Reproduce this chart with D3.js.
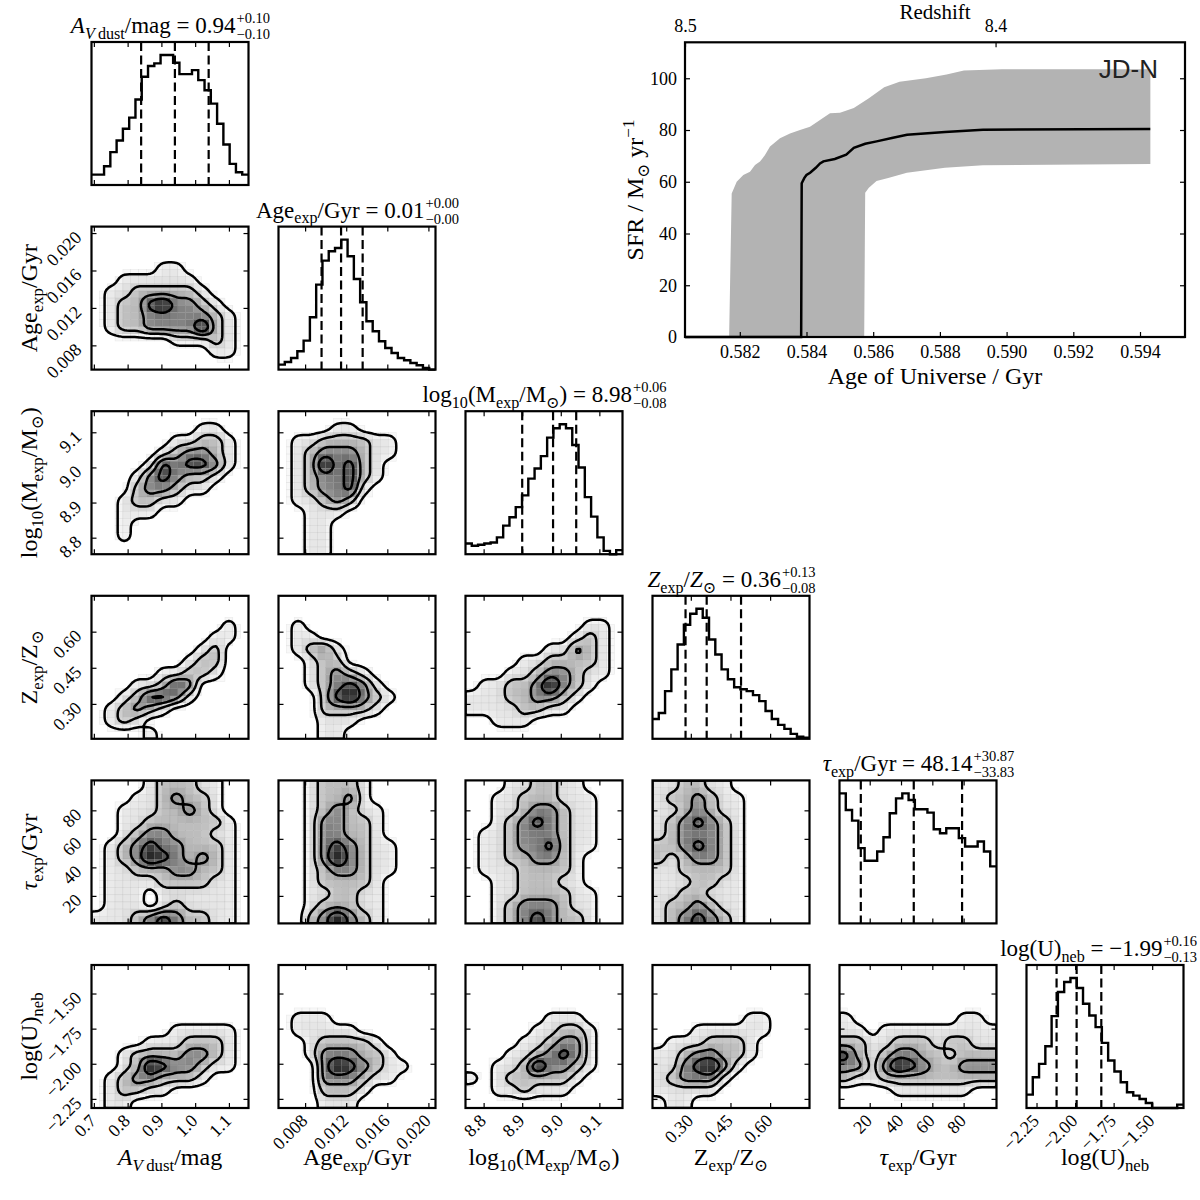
<!DOCTYPE html>
<html>
<head>
<meta charset="utf-8">
<script src="https://cdn.jsdelivr.net/npm/d3@7"></script>
<style>
body { margin: 0; background: #fff; }
svg text { white-space: pre; }
</style>
</head>
<body>
<svg id="fig" width="1200" height="1200"></svg>
<script>
// ---- corner plot parameters ----
const paramRanges = [[0.693, 1.158], [0.00541, 0.02069], [8.753, 9.16], [0.155, 0.749], [0.7, 101], [-2.315, -1.297]];
const paramTicks = [[0.7, 0.8, 0.9, 1.0, 1.1], [0.008, 0.012, 0.016, 0.020], [8.8, 8.9, 9.0, 9.1], [0.30, 0.45, 0.60], [20, 40, 60, 80], [-2.25, -2.00, -1.75, -1.50]];
const tickFormats = [".1f", ".3f", ".1f", ".2f", "d", ".2f"];
const q16 = [0.84, 0.0096, 8.90, 0.28, 14.31, -2.12];
const q50 = [0.94, 0.0115, 8.98, 0.36, 48.14, -1.99];
const q84 = [1.04, 0.0136, 9.04, 0.49, 79.01, -1.83];

// 1D histograms (25 bins over each range)
const histAv = [31, 31, 56, 98, 133, 168, 201, 255, 323, 355, 363, 388, 388, 365, 331, 331, 343, 313, 283, 243, 183, 121, 63, 38, 31];
const histAge = [15, 23, 35, 55, 87, 157, 255, 327, 355, 365, 390, 340, 272, 202, 145, 115, 85, 65, 50, 35, 28, 20, 13, 5, 0];
const histMass = [32, 25, 28, 32, 35, 50, 85, 110, 140, 175, 225, 255, 292, 347, 375, 387, 375, 325, 258, 170, 112, 50, 10, 0, 12];
const histZ = [20, 26, 48, 70, 95, 115, 126, 131, 122, 100, 85, 70, 60, 52, 50, 48, 44, 38, 28, 20, 14, 10, 5, 2, 1];
const histTau = [392, 342, 310, 227, 189, 189, 217, 260, 332, 377, 392, 372, 344, 344, 334, 284, 272, 287, 287, 257, 232, 232, 247, 217, 172];
const histLogU = [40, 92, 132, 185, 275, 347, 377, 389, 359, 312, 277, 242, 195, 142, 109, 77, 47, 37, 27, 15, 0, 0, 0, 0, 10];
const hists = [histAv, histAge, histMass, histZ, histTau, histLogU];

// 2D densities, as contour level read per cell (0 outside, 1..4 inside each contour), rows top to bottom
const dens10 = ["000000000000", "000000000000", "000000000000", "000001100000", "001111110000", "011222221000",
                "012245332100", "012233333210", "012233335210", "000000111210", "000000000110", "000000000000"];
const dens20 = ["000000000000", "000000001100", "000000112210", "000001233210", "000014344310", "000134322100",
                "000233211000", "001221100000", "001110000000", "001000000000", "001000000000", "000000000000"];
const dens21 = ["000000000000", "000011000000", "011222211000", "012333211000", "012534210000", "012334210000",
                "012334100000", "011232000000", "001110000000", "001100000000", "001100000000", "001100000000"];
const dens30 = ["000000000000", "000000000000", "000000000010", "000000000110", "000000001200", "000000012200",
                "000001122100", "000112430000", "001244310000", "012321000000", "012100000000", "000010000000"];
const dens31 = ["000000000000", "000000000000", "010000000000", "011000000000", "012310000000", "001220000000",
                "001232100000", "001234310000", "000245321000", "000222210000", "000111000000", "000110000000"];
const dens32 = ["000000000000", "000000000000", "000000000110", "000000001210", "000000113210", "000011222210",
                "000112332110", "011223532100", "111223321000", "111122110000", "001110000000", "000000000000"];
const dens40 = ["000012221100", "000112322100", "001112232100", "001122222210", "001233222110", "012343322210",
                "012354323210", "011222332210", "011112222110", "011101111110", "011101211110", "111234322110"];
const dens41 = ["001222100000", "001223100000", "001232110000", "001332210000", "001332210000", "001343211000",
                "001353211000", "001233211000", "001222210000", "001122110000", "001222110000", "002353210000"];
const dens42 = ["000112211000", "001122211100", "001123321100", "001234321100", "011233321100", "011233421100",
                "011223321000", "011122221000", "001122211000", "001122221100", "001233321100", "001234322100"];
const dens43 = ["112211000000", "122321100000", "112321100000", "123432100000", "123332100000", "223432100000",
                "212332100000", "112222100000", "111221100000", "112211100000", "122321100000", "123432100000"];
const dens50 = ["000000000000", "000000000000", "000000000000", "000000000000", "000000000000", "000000111110",
                "000011122210", "001222233210", "001254332110", "012332221000", "012211000000", "011000000000"];
const dens51 = ["000000000000", "000000000000", "000000000000", "000000000000", "011100000000", "011111000000",
                "001222210000", "001333221000", "000354321100", "000333211000", "000222100000", "000111000000"];
const dens52 = ["000000000000", "000000000000", "000000000000", "000000000000", "000000111000", "000001122100",
                "000011233100", "000112343100", "001125332100", "101222221000", "001121110000", "000000000000"];
const dens53 = ["000000000000", "000000000000", "000000000000", "000000000000", "000000011000", "000111111000",
                "011122210000", "112332210000", "113453100000", "123331000000", "111110000000", "011000000000"];
const dens54 = ["000000000000", "000000000000", "000000000000", "000000000000", "100000000110", "110111111111",
                "221122212211", "421233221222", "331354322333", "211222222222", "000011111100", "000000000000"];
const densPanels = [
  [1, 0, dens10], [2, 0, dens20], [2, 1, dens21], [3, 0, dens30], [3, 1, dens31], [3, 2, dens32],
  [4, 0, dens40], [4, 1, dens41], [4, 2, dens42], [4, 3, dens43],
  [5, 0, dens50], [5, 1, dens51], [5, 2, dens52], [5, 3, dens53], [5, 4, dens54]
];

// ---- star formation history ----
const sfrHi = [[0.581680, 0], [0.581757, 55.5], [0.581907, 60], [0.582105, 62.6], [0.582306, 63.9], [0.582456, 66.5],
  [0.582606, 67.8], [0.582756, 70.3], [0.582906, 73.6], [0.583205, 76.8], [0.583505, 78.7], [0.583805, 80.0],
  [0.584105, 81.3], [0.584405, 83.9], [0.584705, 86.5], [0.585004, 86.7], [0.585419, 88.5], [0.585870, 92.3],
  [0.586330, 96.5], [0.586790, 98.7], [0.587580, 100.0], [0.588200, 101.5], [0.588720, 103.0], [0.589860, 103.5],
  [0.594310, 103.5]];
const sfrLo = [[0.581680, 0], [0.585730, 0], [0.585760, 55.8], [0.585870, 57.7], [0.586100, 60.3], [0.586450, 61.5],
  [0.587010, 63.5], [0.588150, 65.4], [0.589290, 66.4], [0.594310, 66.9]];
const sfrMed = [[0.580357, 0], [0.583840, 0], [0.583856, 59.4], [0.583937, 61.5], [0.584000, 62.6], [0.584108, 63.5],
  [0.584279, 65.4], [0.584405, 67.1], [0.584507, 67.9], [0.584849, 68.8], [0.585191, 70.5], [0.585419, 73.1],
  [0.585761, 74.7], [0.586103, 75.6], [0.586558, 76.9], [0.587014, 78.2], [0.588154, 79.2], [0.589293, 80.1],
  [0.594308, 80.4]];
const ageTicks = [0.582, 0.584, 0.586, 0.588, 0.590, 0.592, 0.594];
const sfrTicks = [0, 20, 40, 60, 80, 100];
const redshiftTicks = [8.5, 8.4];

// ---- labels ----
const titleLabels = [
  [{t: "A", i: 1}, {t: "V", i: 1, s: 1}, {t: "\u2009dust", s: 1}, {t: "/mag"}],
  [{t: "Age"}, {t: "exp", s: 1}, {t: "/Gyr"}],
  [{t: "log"}, {t: "10", s: 1}, {t: "(M"}, {t: "exp", s: 1}, {t: "/M"}, {t: "\u2299", s: 1}, {t: ")"}],
  [{t: "Z", i: 1}, {t: "exp", s: 1}, {t: "/"}, {t: "Z", i: 1}, {t: "\u2299", s: 1}],
  [{t: "\u03c4", i: 1}, {t: "exp", s: 1}, {t: "/Gyr"}],
  [{t: "log(U)"}, {t: "neb", s: 1}]
];
const axisLabels = [
  titleLabels[0], titleLabels[1], titleLabels[2],
  [{t: "Z"}, {t: "exp", s: 1}, {t: "/Z"}, {t: "\u2299", s: 1}],
  titleLabels[4], titleLabels[5]
];

const serif = '"Liberation Serif", "DejaVu Serif", serif';
const panelW = 157, panelH = 143, left0 = 91.5, top0 = 42, colStep = 187, rowStep = 184.6;
const px = j => left0 + j * colStep;
const py = i => top0 + i * rowStep;

const svg = d3.select("#fig").attr("font-family", serif);

const xScales = paramRanges.map(r => d3.scaleLinear().domain(r).range([0, panelW]));
const yScales = paramRanges.map(r => d3.scaleLinear().domain(r).range([panelH, 0]));

function addSegs(text, segs, fs) {
  let off = 0;
  segs.forEach(sg => {
    const target = sg.s ? fs * 0.25 : 0;
    text.append("tspan").text(sg.t)
      .attr("dy", target - off)
      .attr("font-size", sg.s ? fs * 0.7 : fs)
      .attr("font-style", sg.i ? "italic" : "normal");
    off = target;
  });
}

function drawTitle(k, cx, y) {
  const fs = 23;
  const t = svg.append("text").attr("y", y).attr("font-size", fs);
  addSegs(t, titleLabels[k].concat([{t: " = " + d3.format(".2f")(q50[k])}]), fs);
  const w = t.node().getComputedTextLength();
  const f2 = d3.format(".2f");
  const sup = svg.append("text").attr("y", y - 10).attr("font-size", 14.5).text("+" + f2(q84[k] - q50[k]));
  const sub = svg.append("text").attr("y", y + 6).attr("font-size", 14.5).text("\u2212" + f2(q50[k] - q16[k]));
  const ws = Math.max(sup.node().getComputedTextLength(), sub.node().getComputedTextLength());
  // keep the whole title inside the figure
  const x0 = Math.min(cx - (w + ws) / 2, 1197 - w - ws - 1);
  t.attr("x", x0);
  sup.attr("x", x0 + w + 1);
  sub.attr("x", x0 + w + 1);
}

function boxBlur(f, N, M, r) {
  const tmp = new Float64Array(N * M), out = new Float64Array(N * M);
  for (let v = 0; v < M; v++) for (let u = 0; u < N; u++) {
    let s = 0, c = 0;
    for (let d = -r; d <= r; d++) { const uu = Math.max(0, Math.min(N - 1, u + d)); s += f[v * N + uu]; c++; }
    tmp[v * N + u] = s / c;
  }
  for (let v = 0; v < M; v++) for (let u = 0; u < N; u++) {
    let s = 0, c = 0;
    for (let d = -r; d <= r; d++) { const vv = Math.max(0, Math.min(M - 1, v + d)); s += tmp[vv * N + u]; c++; }
    out[v * N + u] = s / c;
  }
  return out;
}

function smoothField(rows, k) {
  const n = rows.length, m = rows[0].length;
  const g = rows.map(r => r.split("").map(Number));
  const val = (i, j) => g[Math.max(0, Math.min(n - 1, j))][Math.max(0, Math.min(m - 1, i))];
  const N = m * k, M = n * k;
  let f = new Float64Array(N * M);
  for (let v = 0; v < M; v++) for (let u = 0; u < N; u++) {
    const gx = (u + 0.5) / k - 0.5, gy = (v + 0.5) / k - 0.5;
    const i0 = Math.floor(gx), j0 = Math.floor(gy), tx = gx - i0, ty = gy - j0;
    f[v * N + u] = (1 - tx) * (1 - ty) * val(i0, j0) + tx * (1 - ty) * val(i0 + 1, j0) +
      (1 - tx) * ty * val(i0, j0 + 1) + tx * ty * val(i0 + 1, j0 + 1);
  }
  f = boxBlur(f, N, M, 1);
  f = boxBlur(f, N, M, 1);
  return {f, N, M};
}

const grey = d3.scaleLinear()
  .domain([0, 0.5, 1, 2, 3, 4, 5])
  .range(["#ffffff", "#f6f6f6", "#e6e6e6", "#bdbdbd", "#828282", "#383838", "#0d0d0d"])
  .clamp(true);

function styleTicks(ax) {
  ax.select(".domain").remove();
  ax.selectAll(".tick line").attr("stroke", "#000").attr("stroke-width", 1.2);
  ax.attr("font-family", serif).attr("font-size", 18);
  ax.selectAll(".tick text").attr("fill", "#000");
}

function panelAxes(g, i, j, isHist) {
  const xs = xScales[j];
  const fmtX = d3.format(tickFormats[j]);
  const bottom = g.append("g").attr("transform", `translate(0,${panelH})`)
    .call(d3.axisBottom(xs).tickValues(paramTicks[j]).tickSize(-5).tickFormat(i === 5 ? fmtX : ""));
  styleTicks(bottom);
  if (i === 5) {
    bottom.selectAll(".tick text").attr("x", null).attr("y", null).attr("dy", null)
      .attr("text-anchor", "end").attr("transform", "translate(3,14) rotate(-45)");
  }
  const top = g.append("g").call(d3.axisTop(xs).tickValues(paramTicks[j]).tickSize(-5).tickFormat(""));
  styleTicks(top);
  if (!isHist) {
    const ys = yScales[i];
    const left = g.append("g")
      .call(d3.axisLeft(ys).tickValues(paramTicks[i]).tickSize(-5).tickFormat(j === 0 ? d3.format(tickFormats[i]) : ""));
    styleTicks(left);
    if (j === 0) {
      left.selectAll(".tick text").attr("x", null).attr("y", null).attr("dy", null)
        .attr("text-anchor", "end").attr("transform", "translate(-9,5) rotate(-45)");
    }
    const right = g.append("g").attr("transform", `translate(${panelW},0)`)
      .call(d3.axisRight(ys).tickValues(paramTicks[i]).tickSize(-5).tickFormat(""));
    styleTicks(right);
  }
}

function frame(g) {
  g.append("rect").attr("width", panelW).attr("height", panelH)
    .attr("fill", "none").attr("stroke", "#000").attr("stroke-width", 2.2);
}

// ---- diagonal histograms ----
hists.forEach((counts, k) => {
  const g = svg.append("g").attr("transform", `translate(${px(k)},${py(k)})`);
  const xs = xScales[k];
  const edges = d3.range(counts.length + 1).map(b => paramRanges[k][0] + b * (paramRanges[k][1] - paramRanges[k][0]) / counts.length);
  const hy = d3.scaleLinear().domain([0, 1.1 * d3.max(counts)]).range([panelH, 0]);
  const pts = counts.map((c, b) => [edges[b], c]).concat([[edges[counts.length], counts[counts.length - 1]]]);
  g.append("path")
    .attr("d", d3.line().x(d => xs(d[0])).y(d => hy(d[1])).curve(d3.curveStepAfter)(pts))
    .attr("fill", "none").attr("stroke", "#000").attr("stroke-width", 2.4);
  [q16[k], q50[k], q84[k]].forEach(q => {
    g.append("line").attr("x1", xs(q)).attr("x2", xs(q)).attr("y1", 0).attr("y2", panelH)
      .attr("stroke", "#000").attr("stroke-width", 2.2).attr("stroke-dasharray", "9,4.5");
  });
  panelAxes(g, k, k, true);
  frame(g);
  drawTitle(k, px(k) + panelW / 2, py(k) - 9);
});

// ---- 2D panels ----
densPanels.forEach(([i, j, rows], idx) => {
  const g = svg.append("g").attr("transform", `translate(${px(j)},${py(i)})`);
  const clipId = "clip" + idx;
  g.append("clipPath").attr("id", clipId).append("rect").attr("width", panelW).attr("height", panelH);
  const body = g.append("g").attr("clip-path", `url(#${clipId})`);
  const k = 5;
  const {f, N, M} = smoothField(rows, k);
  const gx = d3.scaleLinear().domain([0, N]).range([0, panelW]);
  const gy = d3.scaleLinear().domain([0, M]).range([0, panelH]);
  // shaded 2D histogram cells (20 x 20)
  const nb = 20, bx = N / nb, by = M / nb;
  const cells = [];
  for (let b = 0; b < nb; b++) for (let a = 0; a < nb; a++) {
    let s = 0, c = 0;
    for (let v = Math.floor(b * by); v < Math.floor((b + 1) * by); v++)
      for (let u = Math.floor(a * bx); u < Math.floor((a + 1) * bx); u++) { s += f[v * N + u]; c++; }
    cells.push({a, b, v: s / c});
  }
  body.selectAll("rect.cell").data(cells.filter(d => d.v > 0.35)).enter().append("rect")
    .attr("class", "cell")
    .attr("x", d => gx(d.a * bx)).attr("y", d => gy(d.b * by))
    .attr("width", gx(bx)).attr("height", gy(by))
    .attr("fill", d => grey(d.v))
    .attr("stroke", "rgba(0,0,0,0.07)").attr("stroke-width", 0.6);
  const contours = d3.contours().size([N, M]).thresholds([0.5, 1.5, 2.5, 3.5])(Array.from(f));
  const path = d3.geoPath(d3.geoTransform({
    point: function (x, y) { this.stream.point(gx(x), gy(y)); }
  }));
  body.selectAll("path.ct").data(contours).enter().append("path")
    .attr("class", "ct").attr("d", path)
    .attr("fill", "none").attr("stroke", "#000").attr("stroke-width", 2.5).attr("stroke-linejoin", "round");
  panelAxes(g, i, j, false);
  frame(g);
});

// ---- axis labels of the corner ----
axisLabels.forEach((segs, k) => {
  const t = svg.append("text").attr("x", px(k) + panelW / 2).attr("y", py(5) + panelH + 57)
    .attr("text-anchor", "middle").attr("font-size", 24);
  addSegs(t, segs, 24);
  if (k > 0) {
    const tl = svg.append("text").attr("text-anchor", "middle").attr("font-size", 24)
      .attr("transform", `translate(37,${py(k) + panelH / 2}) rotate(-90)`);
    addSegs(tl, segs, 24);
  }
});

// ---- SFH panel ----
const sfrX = d3.scaleLinear().domain([0.580357, 0.595349]).range([685, 1185]);
const sfrY = d3.scaleLinear().domain([0, 113.9]).range([337, 42.3]);
const zAxisScale = d3.scaleLinear().domain([8.5, 8.339]).range([685, 1185]);
const sg = svg.append("g");
const line = d3.line().x(d => sfrX(d[0])).y(d => sfrY(d[1]));
sg.append("path").attr("d", line(sfrHi.concat(sfrLo.slice().reverse())) + "Z")
  .attr("fill", "#b3b3b3").attr("stroke", "none");
sg.append("path").attr("d", line(sfrMed)).attr("fill", "none").attr("stroke", "#000").attr("stroke-width", 2.5);

const axB = sg.append("g").attr("transform", "translate(0,337)")
  .call(d3.axisBottom(sfrX).tickValues(ageTicks).tickSize(-5).tickPadding(8).tickFormat(d3.format(".3f")));
styleTicks(axB);
const axL = sg.append("g").attr("transform", "translate(685,0)")
  .call(d3.axisLeft(sfrY).tickValues(sfrTicks).tickSize(-5).tickPadding(8));
styleTicks(axL);
const axR = sg.append("g").attr("transform", "translate(1185,0)")
  .call(d3.axisRight(sfrY).tickValues(sfrTicks).tickSize(-5).tickFormat(""));
styleTicks(axR);
const axT = sg.append("g").attr("transform", "translate(0,42.3)")
  .call(d3.axisTop(zAxisScale).tickValues(redshiftTicks).tickSize(-5).tickPadding(10).tickFormat(d3.format(".1f")));
styleTicks(axT);
sg.append("rect").attr("x", 685).attr("y", 42.3).attr("width", 500).attr("height", 337 - 42.3)
  .attr("fill", "none").attr("stroke", "#000").attr("stroke-width", 2.2);

sg.append("text").attr("x", 935).attr("y", 19).attr("text-anchor", "middle").attr("font-size", 21).text("Redshift");
sg.append("text").attr("x", 935).attr("y", 384).attr("text-anchor", "middle").attr("font-size", 24).text("Age of Universe / Gyr");
const sfrLab = sg.append("text").attr("text-anchor", "middle").attr("font-size", 24)
  .attr("transform", "translate(643,190) rotate(-90)");
addSegs(sfrLab, [{t: "SFR / M"}, {t: "\u2299", s: 1}, {t: " yr"}], 24);
sfrLab.append("tspan").attr("dy", -9).attr("font-size", 17).text("\u22121");
sg.append("text").attr("x", 1158).attr("y", 78).attr("text-anchor", "end")
  .attr("font-family", '"Liberation Sans", Arial, sans-serif').attr("font-size", 26).attr("fill", "#222").text("JD-N");
</script>
</body>
</html>
